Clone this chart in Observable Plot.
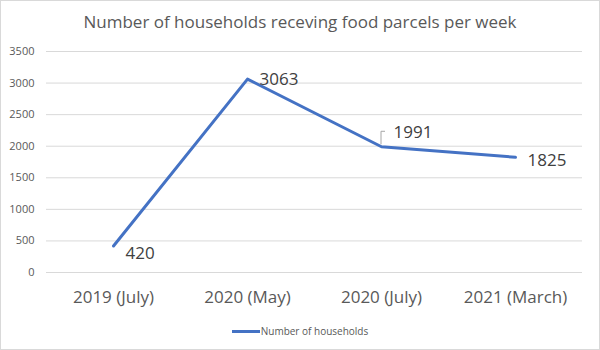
<!DOCTYPE html>
<html>
<head>
<meta charset="utf-8">
<script src="https://cdn.jsdelivr.net/npm/d3@7"></script>
<script src="https://cdn.jsdelivr.net/npm/@observablehq/plot@0.6"></script>
<style>
  html, body { margin: 0; padding: 0; background: #fff; }
  #chart {
    width: 600px; height: 350px; box-sizing: border-box;
    border: 1px solid #d9d9d9; background: #fff;
    font-family: "Open Sans", sans-serif; overflow: hidden;
  }
  #title {
    height: 42px; line-height: 42px; text-align: center;
    font-size: 17px; color: #595959;
  }
  #legend {
    display: flex; justify-content: center; align-items: center;
    height: 36px; font-size: 10px; color: #595959;
  }
  #legend .sw { width: 28px; height: 3px; background: #4472C4; margin-right: 1px; }
</style>
</head>
<body>
<div id="chart">
  <div id="title">Number of households receving food parcels per week</div>
  <div id="plot"></div>
  <div id="legend"><span class="sw"></span><span>Number of households</span></div>
</div>
<script>
const categories = ["2019 (July)", "2020 (May)", "2020 (July)", "2021 (March)"];
const households = [420, 3063, 1991, 1825];
const yTicks = [0, 500, 1000, 1500, 2000, 2500, 3000, 3500];
const seriesName = "Number of households";

const data = categories.map((c, i) => ({category: c, value: households[i]}));
const labelDy = [8, 0, -14, 3];
const lineColor = "#4472C4";

const leader = (index, scales) => {
  const d = data[2];
  const px = scales.x(d.category), py = scales.y(d.value);
  const g = d3.create("svg:path")
    .attr("d", `M${px},${py - 2}V${py - 15}H${px + 4}`)
    .attr("fill", "none").attr("stroke", "#a6a6a6").attr("stroke-width", 1);
  return g.node();
};

const plot = Plot.plot({
  width: 598,
  height: 270,
  marginLeft: 45,
  marginRight: 17,
  marginTop: 8,
  marginBottom: 41,
  style: {fontFamily: "Open Sans, sans-serif", background: "#fff"},
  x: {type: "point", domain: categories, padding: 0.5, label: null},
  y: {domain: [0, 3500], label: null},
  marks: [
    Plot.gridY(yTicks, {stroke: "#d9d9d9", strokeOpacity: 1}),
    Plot.axisY(yTicks, {tickSize: 0, tickPadding: 12, fontSize: 11, fill: "#595959", tickFormat: d => String(d)}),
    Plot.axisX({tickSize: 0, tickPadding: 18, fontSize: 17, fill: "#595959"}),
    Plot.line(data, {x: "category", y: "value", stroke: lineColor, strokeWidth: 3}),
    leader,
    ...data.map((d, i) => Plot.text([d], {
      x: "category", y: "value", text: d => String(d.value),
      textAnchor: "start", dx: 12, dy: labelDy[i], fontSize: 17, fill: "#404040"
    }))
  ]
});
document.getElementById("plot").appendChild(plot);
</script>
</body>
</html>
